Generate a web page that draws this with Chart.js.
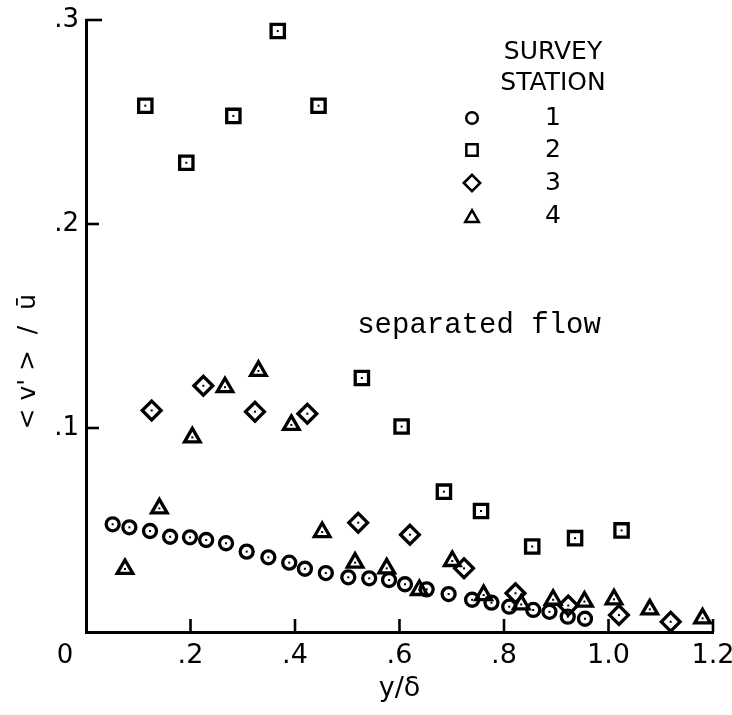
<!DOCTYPE html>
<html><head><meta charset="utf-8">
<script src="https://cdn.jsdelivr.net/npm/chart.js@4/dist/chart.umd.min.js"></script>
<style>html,body{margin:0;padding:0;background:#fff}</style>
</head><body>
<canvas id="c" width="732" height="715"></canvas>
<script>
// Station 1 (circles)
const st1X = [0.051,0.083,0.1225,0.161,0.199,0.230,0.268,0.3075,0.349,0.389,0.419,0.459,0.502,0.542,0.580,0.6105,0.652,0.694,0.739,0.776,0.810,0.856,0.887,0.922,0.955];
const st1Y = [0.0528,0.0513,0.0495,0.0467,0.0464,0.0451,0.0435,0.0394,0.0366,0.0340,0.0310,0.0289,0.0268,0.0263,0.0255,0.0234,0.0209,0.0186,0.0158,0.0144,0.0124,0.0108,0.0099,0.0075,0.0065];
// Station 2 (squares)
const st2X = [0.1135,0.192,0.282,0.367,0.445,0.528,0.604,0.685,0.756,0.854,0.936,1.025];
const st2Y = [0.258,0.230,0.253,0.2946,0.258,0.1245,0.1007,0.0688,0.0593,0.0419,0.0460,0.0498];
// Station 3 (diamonds)
const st3X = [0.1257,0.2246,0.3234,0.4236,0.521,0.620,0.7235,0.822,0.923,1.020,1.119];
const st3Y = [0.1086,0.1207,0.1080,0.1070,0.0536,0.0477,0.0312,0.0190,0.0130,0.0083,0.0050];
// Station 4 (triangles)
const st4X = [0.0746,0.1404,0.2035,0.266,0.330,0.393,0.452,0.515,0.5755,0.638,0.701,0.761,0.833,0.894,0.954,1.0105,1.079,1.180];
const st4Y = [0.0309,0.0606,0.0954,0.1200,0.1280,0.1015,0.0490,0.0340,0.0312,0.0206,0.0348,0.0181,0.0135,0.0158,0.0149,0.0160,0.0111,0.0067];

const stationLabels = ['1','2','3','4'];
const stationStyles = ['circle','rect','rectRot','triangle'];
const stationRadius = [6.5,9.4,9.4,9];
const xTickValues = [0,0.2,0.4,0.6,0.8,1.0,1.2];
const yTickValues = [0,0.1,0.2,0.3];
const xTitle = 'y/δ';
const yTitle = "< v' >  /  ū";
const annotation = 'separated flow';
const legendTitle = ['SURVEY','STATION'];

const FONT = '"DejaVu Sans", "Liberation Sans", Arial, sans-serif';

function pts(xs, ys){ return xs.map((x,i)=>({x:x, y:ys[i]})); }
const seriesX = [st1X,st2X,st3X,st4X];
const seriesY = [st1Y,st2Y,st3Y,st4Y];

const datasets = seriesX.map((xs,i)=>({
  label: 'Station ' + stationLabels[i],
  data: pts(xs, seriesY[i]),
  pointStyle: stationStyles[i],
  pointRadius: stationRadius[i],
  pointBorderWidth: 3.3,
  pointBorderColor: '#000',
  pointBackgroundColor: 'rgba(255,255,255,0)',
  showLine: false
}));

const fmt = v => {
  if (Math.abs(v) < 1e-9) return '';
  if (v >= 0.999) return v.toFixed(1);
  return '.' + Math.round(v*10);
};

const decor = {
  id: 'decor',
  afterDatasetsDraw(chart){
    const ctx = chart.ctx;
    const xs = chart.scales.x, ys = chart.scales.y;
    ctx.save();
    // center dots on markers
    ctx.fillStyle = '#000';
    chart.data.datasets.forEach((d,i)=>{
      chart.getDatasetMeta(i).data.forEach(el=>{
        ctx.fillRect(el.x-1, el.y-1, 2, 2);
      });
    });
    // inward tick marks
    ctx.strokeStyle = '#000';
    ctx.lineWidth = 2.6;
    const bottom = ys.getPixelForValue(0);
    const left = xs.getPixelForValue(0);
    xTickValues.forEach(v=>{
      if (v === 0) return;
      const px = xs.getPixelForValue(v);
      ctx.beginPath(); ctx.moveTo(px, bottom); ctx.lineTo(px, bottom-13); ctx.stroke();
    });
    yTickValues.forEach(v=>{
      if (v === 0) return;
      const py = ys.getPixelForValue(v);
      ctx.beginPath(); ctx.moveTo(left, py); ctx.lineTo(left + (v>=0.3?16:13), py); ctx.stroke();
    });
    // origin label
    ctx.fillStyle = '#000';
    ctx.font = '26px ' + FONT;
    ctx.textAlign = 'center'; ctx.textBaseline = 'middle';
    ctx.fillText('0', left - 21, bottom + 24);
    // annotation
    ctx.font = '29px "Liberation Mono", "Courier New", monospace';
    ctx.textAlign = 'left';
    ctx.fillText(annotation, xs.getPixelForValue(0.519), ys.getPixelForValue(0.1505));
    // legend
    ctx.font = '25px ' + FONT;
    ctx.textAlign = 'center';
    ctx.fillText(legendTitle[0], 553, 52);
    ctx.fillText(legendTitle[1], 553, 83);
    const rowY = [118,150,183,216];
    const legR = [5.8,8,8.2,7.8];
    stationLabels.forEach((lab,i)=>{
      ctx.lineWidth = 2.5;
      ctx.strokeStyle = '#000';
      ctx.fillStyle = 'rgba(0,0,0,0)';
      Chart.helpers.drawPoint(ctx, {pointStyle: stationStyles[i], radius: legR[i], borderWidth: 2.5, rotation: 0}, 472, rowY[i] + (i===3?2:0));
      ctx.fillStyle = '#000';
      ctx.fillText(lab, 553, rowY[i]);
    });
    ctx.restore();
  }
};

new Chart(document.getElementById('c'), {
  type: 'scatter',
  data: { datasets },
  options: {
    responsive: false,
    animation: false,
    events: [],
    layout: { padding: { top: 20, right: 19, left: 0, bottom: 0 } },
    plugins: { legend: { display: false }, tooltip: { enabled: false } },
    scales: {
      x: {
        type: 'linear', min: 0, max: 1.2,
        afterBuildTicks: s => { s.ticks = xTickValues.map(v=>({value:v})); },
        afterFit: s => { s.height = 83; s.paddingLeft = 0; s.paddingRight = 0; },
        grid: { display: true, drawOnChartArea: false, drawTicks: false, color: '#000' },
        border: { display: true, color: '#000', width: 3 },
        ticks: { callback: fmt, color: '#000', padding: 8, maxRotation: 0, autoSkip: false,
                 font: { family: FONT, size: 27 } },
        title: { display: true, text: xTitle, color: '#000', padding: { top: 0, bottom: 10 },
                 font: { family: FONT, size: 27 } }
      },
      y: {
        type: 'linear', min: 0, max: 0.3,
        afterBuildTicks: s => { s.ticks = yTickValues.map(v=>({value:v})); },
        afterFit: s => { s.width = 86; s.paddingTop = 0; s.paddingBottom = 0; },
        grid: { display: true, drawOnChartArea: false, drawTicks: false, color: '#000' },
        border: { display: true, color: '#000', width: 3 },
        ticks: { callback: fmt, color: '#000', padding: 7, autoSkip: false,
                 font: { family: FONT, size: 26 } },
        title: { display: true, text: yTitle + '         ', color: '#000', padding: { top: 13, bottom: 0 },
                 font: { family: FONT, size: 25 } }
      }
    }
  },
  plugins: [decor]
});
</script>
</body></html>
